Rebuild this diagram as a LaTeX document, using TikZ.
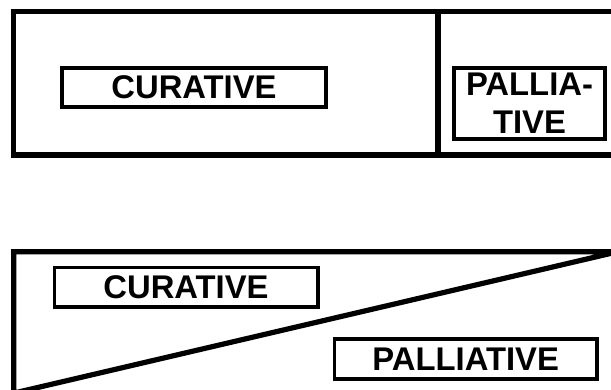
\documentclass[tikz,border=0pt]{standalone}
\usepackage{fontspec}
\newfontfamily\labfont{Liberation Sans}
\begin{document}
\begin{tikzpicture}[x=1pt,y=-1pt,
  frame/.style={line width=5.2pt},
  lab/.style={draw, line width=3.6pt, inner sep=0pt, align=center,
    font=\labfont\bfseries\fontsize{32.8}{37.6}\selectfont}]
\useasboundingbox (0,0) rectangle (611,390);
\clip (0,0) rectangle (611,390);
% top panel
\draw[frame] (640,11.7) -- (13.8,11.7) -- (13.8,155) -- (640,155);
\draw[frame] (438,11.7) -- (438,155);
\node[lab, minimum width=264pt, minimum height=39pt] (curA) at (194,87.5) {CURATIVE};
\node[lab, minimum width=151pt, minimum height=71pt] (palA) at (529.5,103.5) {PALLIA-\\TIVE};
% bottom panel
\draw[frame] (640,251.7) -- (13.8,251.7) -- (13.8,393.1) -- (618,251.7);
\node[lab, minimum width=263.4pt, minimum height=39.3pt] (curB) at (186,287.3) {CURATIVE};
\node[lab, minimum width=262.7pt, minimum height=39.4pt] (palB) at (465.7,359) {PALLIATIVE};
\end{tikzpicture}
\end{document}
